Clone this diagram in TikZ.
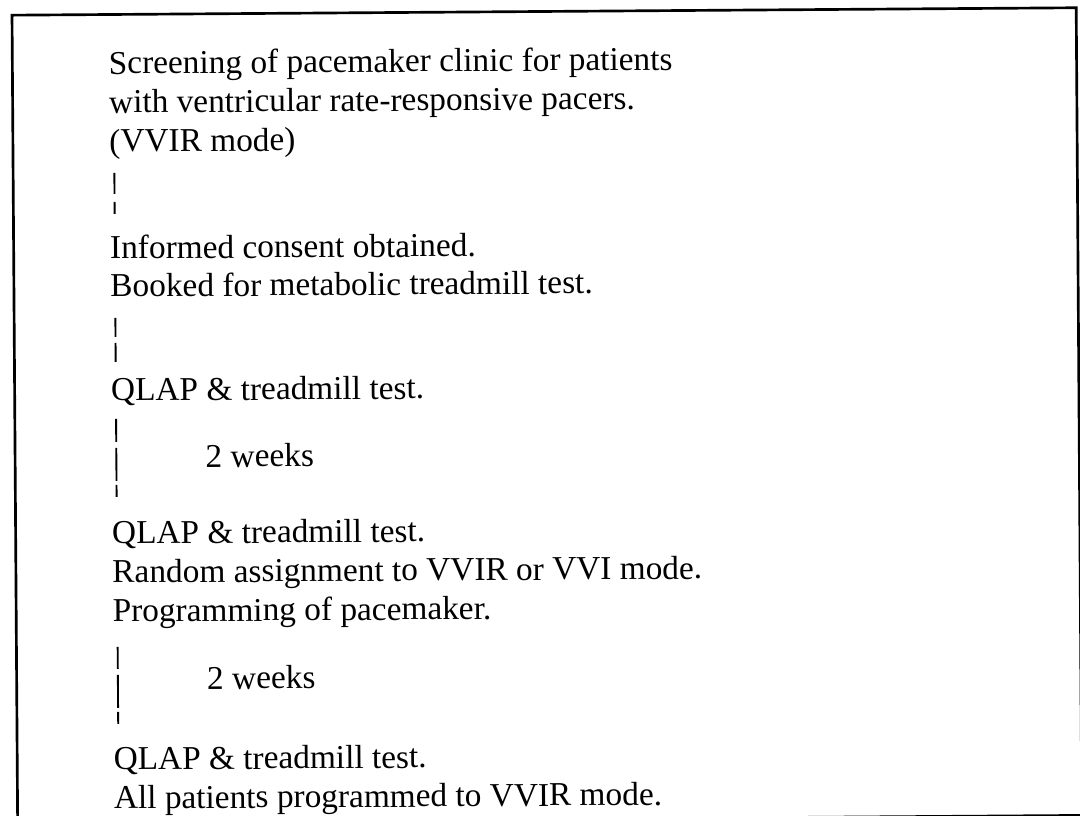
\documentclass[tikz,border=0pt]{standalone}
\usepackage{fontspec}
\setmainfont{Liberation Serif}
\begin{document}
\begin{tikzpicture}[x=0.75pt,y=-0.75pt,
  line/.style={anchor=base west, inner sep=0pt, font=\fontsize{25}{29}\selectfont},
  link/.style={line width=1.4pt},
  frame/.style={line width=2pt}]
\fill[white] (0,0) rectangle (1080,816);
\useasboundingbox (0,0) rectangle (1080,816);
\begin{scope}[rotate around={0.4:(540,408)}, transform shape]
  % outer frame
  \draw[frame] (14.75,11.5) rectangle (1079,819.2);

  % stage 1
  \node[line] (s1a) at (111,71)  {Screening of pacemaker clinic for patients};
  \node[line] (s1b) at (111,110) {with ventricular rate-responsive pacers.};
  \node[line] (s1c) at (111,149) {(VVIR mode)};
  % stage 2
  \node[line] (s2a) at (111,256) {Informed consent obtained.};
  \node[line] (s2b) at (111,294) {Booked for metabolic treadmill test.};
  % stage 3
  \node[line] (s3)  at (111,398) {QLAP \& treadmill test.};
  \node[line] (w1)  at (205,465) {2 weeks};
  % stage 4
  \node[line] (s4a) at (111,541) {QLAP \& treadmill test.};
  \node[line] (s4b) at (111,580) {Random assignment to VVIR or VVI mode.};
  \node[line] (s4c) at (111,619) {Programming of pacemaker.};
  \node[line] (w2)  at (205,687) {2 weeks};
  % stage 5
  \node[line] (s5a) at (111,767) {QLAP \& treadmill test.};
  \node[line] (s5b) at (111,806) {All patients programmed to VVIR mode.};

  % broken vertical links between the stages
  \coordinate (b1t) at (116,170); \coordinate (b1b) at (116,211);
  \coordinate (b2t) at (116,315); \coordinate (b2b) at (116,359);
  \coordinate (b3t) at (116,416); \coordinate (b3b) at (116,494);
  \coordinate (b4t) at (116,644); \coordinate (b4b) at (116,721);
  \draw[link, dash pattern=on 15.75pt off 6pt on 9pt] (b1t) -- (b1b);
  \draw[link, dash pattern=on 14.25pt off 4.5pt on 14.25pt] (b2t) -- (b2b);
  \draw[link, dash pattern=on 17.25pt off 4.5pt on 24.75pt off 3pt on 9pt] (b3t) -- (b3b);
  \draw[link, dash pattern=on 16.5pt off 4.5pt on 24.75pt off 3pt on 9pt] (b4t) -- (b4b);
\end{scope}
\end{tikzpicture}
\end{document}
